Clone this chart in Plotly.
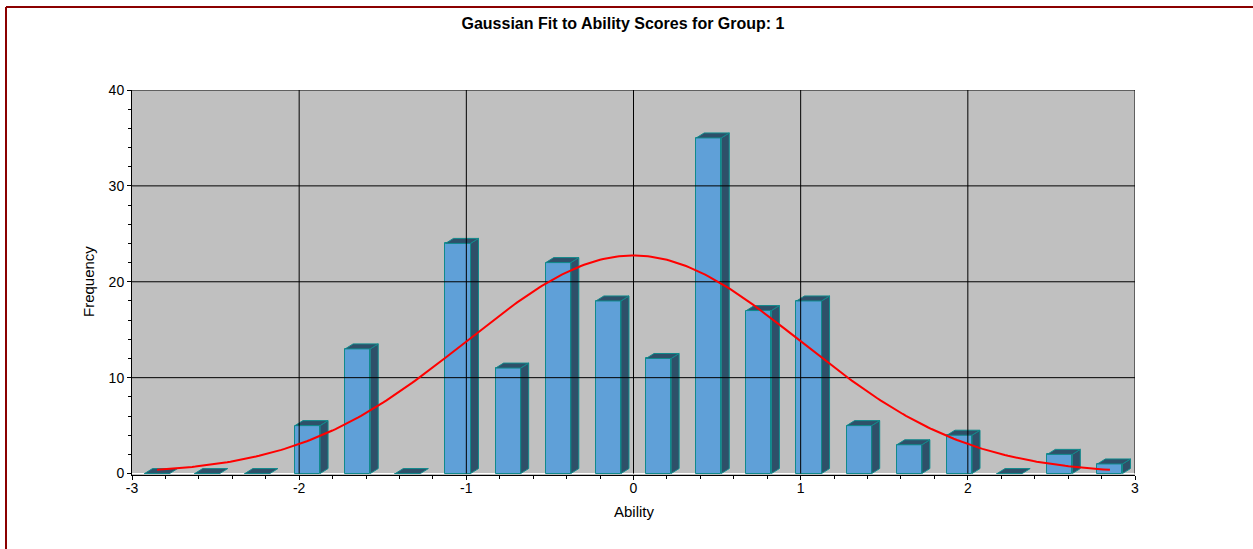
import numpy as np
import plotly.graph_objects as go

# Histogram of ability scores (bin centres, width 0.3)
bin_centers = [-2.85, -2.55, -2.25, -1.95, -1.65, -1.35, -1.05, -0.75, -0.45, -0.15,
               0.15, 0.45, 0.75, 1.05, 1.35, 1.65, 1.95, 2.25, 2.55, 2.85]
frequencies = [0, 0, 0, 5, 13, 0, 24, 11, 22, 18,
               12, 35, 17, 18, 5, 3, 4, 0, 2, 1]
bin_width = 0.3

# Fitted Gaussian parameters
fit_mean = 0.0
fit_sd = 1.0

x_ticks = [-3, -2, -1, 0, 1, 2, 3]
x_tick_text = ["-3", "-2", "-1", "0", "1", "2", "3"]
y_ticks = [0, 10, 20, 30, 40]
y_tick_text = ["0", "10", "20", "30", "40"]

# Layout geometry (pixels)
W, H = 1253, 549
ML, MR, MT, MB = 132, 118, 90, 74
X_RANGE = [-3, 3]
Y_RANGE = [-0.15, 40]
plot_w = W - ML - MR
plot_h = H - MT - MB
ux = (X_RANGE[1] - X_RANGE[0]) / plot_w   # data units per pixel
uy = (Y_RANGE[1] - Y_RANGE[0]) / plot_h

FRONT = "#5fa0d8"
SIDE = "#2e5069"
EDGE = "#108a8c"

bar_w = 0.15
dx = 8 * ux   # bar depth offset
dy = 5 * uy

fig = go.Figure()

# Front faces of the bars
fig.add_trace(go.Bar(
    x=bin_centers, y=frequencies, width=bar_w,
    marker=dict(color=FRONT, line=dict(color=EDGE, width=1)),
    hoverinfo="x+y",
))

# Top and side faces giving the bars depth
sx, sy, tx, ty = [], [], [], []
for c, v in zip(bin_centers, frequencies):
    xl, xr = c - bar_w / 2, c + bar_w / 2
    tx += [xl, xl + dx, xr + dx, xr, xl, None]
    ty += [v, v + dy, v + dy, v, v, None]
    if v > 0:
        sx += [xr, xr + dx, xr + dx, xr, xr, None]
        sy += [0, dy, v + dy, v, 0, None]

fig.add_trace(go.Scatter(x=sx, y=sy, mode="lines", fill="toself",
                         fillcolor=SIDE, line=dict(color=EDGE, width=1),
                         hoverinfo="skip"))
fig.add_trace(go.Scatter(x=tx, y=ty, mode="lines", fill="toself",
                         fillcolor=SIDE, line=dict(color=EDGE, width=1),
                         hoverinfo="skip"))

# Grid lines drawn over the bars
gx, gy = [], []
for t in x_ticks[1:]:
    gx += [t, t, None]
    gy += [0, 40, None]
for t in y_ticks[1:]:
    gx += [X_RANGE[0], X_RANGE[1], None]
    gy += [t, t, None]
fig.add_trace(go.Scatter(x=gx, y=gy, mode="lines",
                         line=dict(color="#000000", width=1), hoverinfo="skip"))

# Gaussian fit curve scaled to the histogram
total = sum(frequencies)
xs = np.linspace(bin_centers[0], bin_centers[-1], 300)
ys = total * bin_width / (fit_sd * np.sqrt(2 * np.pi)) * np.exp(-0.5 * ((xs - fit_mean) / fit_sd) ** 2)
fig.add_trace(go.Scatter(x=xs, y=ys, mode="lines",
                         line=dict(color="#ff0000", width=2), hoverinfo="skip"))

font = "Liberation Sans, Arial, sans-serif"

fig.update_layout(
    width=W, height=H,
    margin=dict(l=ML, r=MR, t=MT, b=MB),
    paper_bgcolor="#ffffff",
    plot_bgcolor="#c0c0c0",
    showlegend=False,
    bargap=0,
    font=dict(family=font, size=14, color="#000000"),
    title=dict(text="<b>Gaussian Fit to Ability Scores for Group: 1</b>",
               font=dict(family=font, size=16, color="#000000"),
               x=623 / W, xref="container", xanchor="center",
               y=1 - 23 / H, yref="container", yanchor="middle"),
    xaxis=dict(range=X_RANGE, tickvals=x_ticks, ticktext=x_tick_text,
               showgrid=False, zeroline=False,
               showline=True, linecolor="#000000", linewidth=1,
               ticks="outside", ticklen=4, tickcolor="#000000",
               tickfont=dict(size=14), ticklabelstandoff=-4,
               minor=dict(dtick=0.2, tick0=-3, ticks="outside", ticklen=3,
                          tickcolor="#000000", showgrid=False)),
    yaxis=dict(range=Y_RANGE, tickvals=y_ticks, ticktext=y_tick_text,
               showgrid=False,
               zeroline=True, zerolinecolor="#ffffff", zerolinewidth=1,
               showline=True, linecolor="#000000", linewidth=1,
               ticks="outside", ticklen=4, tickcolor="#000000",
               tickfont=dict(size=14),
               minor=dict(dtick=2, tick0=0, ticks="outside", ticklen=3,
                          tickcolor="#000000", showgrid=False)),
    annotations=[
        dict(text="Ability", xref="paper", yref="paper",
             x=(634 - ML) / plot_w, y=-(511 - (H - MB)) / plot_h,
             showarrow=False, font=dict(size=15), xanchor="center", yanchor="middle"),
        dict(text="Frequency", xref="paper", yref="paper",
             x=(88 - ML) / plot_w, y=((H - MB) - 282) / plot_h, textangle=-90,
             showarrow=False, font=dict(size=15), xanchor="center", yanchor="middle"),
    ],
    shapes=[
        # dark red frame along the left and top edges
        dict(type="line", xref="paper", yref="paper",
             x0=(6 - ML) / plot_w, x1=(6 - ML) / plot_w,
             y0=((H - MB) - 7) / plot_h, y1=((H - MB) - 560) / plot_h,
             line=dict(color="#8b0000", width=2)),
        dict(type="line", xref="paper", yref="paper",
             x0=(6 - ML) / plot_w, x1=(1260 - ML) / plot_w,
             y0=((H - MB) - 7) / plot_h, y1=((H - MB) - 7) / plot_h,
             line=dict(color="#8b0000", width=2)),
    ],
)

fig.write_html("out.html")
